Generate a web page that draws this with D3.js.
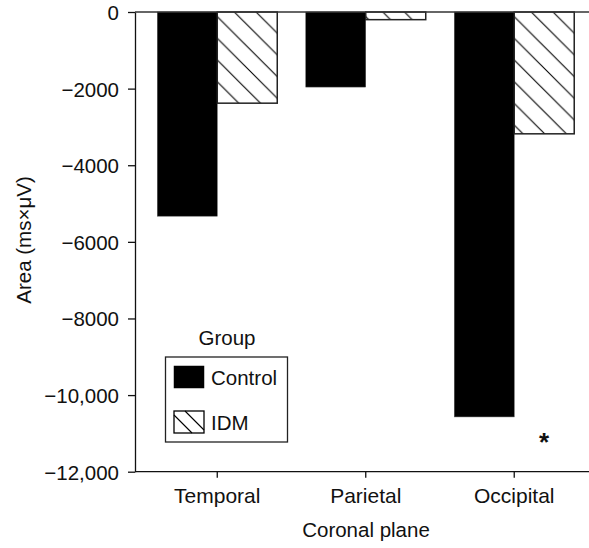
<!DOCTYPE html>
<html>
<head>
<meta charset="utf-8">
<script src="https://cdn.jsdelivr.net/npm/d3@7"></script>
<style>
  body { margin: 0; background: #fff; }
  text { font-family: "Liberation Sans", Arial, sans-serif; fill: #111; }
</style>
</head>
<body>
<svg id="viz"></svg>
<script>
// data
const regions = ["Temporal", "Parietal", "Occipital"];
const groups = ["Control", "IDM"];
const controlValues = [-5330, -1960, -10570];
const idmValues = [-2380, -200, -3180];
const yTicks = [0, -2000, -4000, -6000, -8000, -10000, -12000];
const yTickLabels = ["0", "\u22122000", "\u22124000", "\u22126000", "\u22128000", "\u221210,000", "\u221212,000"];

const rows = regions.map((r, i) => ({ region: r, Control: controlValues[i], IDM: idmValues[i] }));

const W = 589, H = 548;
const svg = d3.select("#viz").attr("width", W).attr("height", H);

// hatch for IDM
const defs = svg.append("defs");
const s = 21.7;
const pat = defs.append("pattern")
  .attr("id", "hatch")
  .attr("patternUnits", "userSpaceOnUse")
  .attr("width", s).attr("height", s);
pat.append("rect").attr("width", s).attr("height", s).attr("fill", "#fff");
pat.append("path")
  .attr("d", `M0,0L${s},${s}M${-s},0L${s},${2 * s}M0,${-s}L${2 * s},${s}`)
  .attr("stroke", "#000").attr("stroke-width", 1.1);

const x0 = 135, yTop = 12, yBot = 471.7;

const x = d3.scaleBand().domain(regions).range([x0, 596.5])
  .paddingInner(0.192).paddingOuter(0.15);
const xg = d3.scaleBand().domain(groups).range([0, x.bandwidth()]);
const y = d3.scaleLinear().domain([-12000, 0]).range([yBot, yTop]);

const fill = { Control: "#000", IDM: "url(#hatch)" };

// bars
const g = svg.append("g");
const grp = g.selectAll("g.region")
  .data(rows)
  .enter()
  .append("g")
  .attr("class", "region")
  .attr("transform", d => `translate(${x(d.region)},0)`);

grp.selectAll("rect")
  .data(d => groups.map(k => ({ key: k, value: d[k] })))
  .enter()
  .append("rect")
  .attr("x", d => xg(d.key))
  .attr("width", xg.bandwidth())
  .attr("y", y(0))
  .attr("height", d => y(d.value) - y(0))
  .attr("fill", d => fill[d.key])
  .attr("stroke", d => d.key === "IDM" ? "#222" : "#555")
  .attr("stroke-width", d => d.key === "IDM" ? 1.5 : 0.5);

// zero line across the top
svg.append("line")
  .attr("x1", x0).attr("x2", W)
  .attr("y1", y(0)).attr("y2", y(0))
  .attr("stroke", "#333").attr("stroke-width", 1.5);

// y axis
const yAxis = svg.append("g")
  .attr("transform", `translate(${x0},0)`)
  .call(d3.axisLeft(y).tickValues(yTicks)
    .tickFormat((d, i) => yTickLabels[i])
    .tickSize(7).tickSizeOuter(0).tickPadding(9));
yAxis.selectAll("text").style("font-size", "20.5px").attr("dy", "0.36em")
  .attr("font-family", "Liberation Sans, Arial, sans-serif");
yAxis.selectAll("line, path").attr("stroke", "#111").attr("stroke-width", 1.3);

// x axis
const xAxis = svg.append("g")
  .attr("transform", `translate(0,${yBot})`)
  .call(d3.axisBottom(x).tickSize(6).tickSizeOuter(0).tickPadding(10));
xAxis.select(".domain").attr("d", `M${x0},0H${W}`);
xAxis.selectAll("text").style("font-size", "21px")
  .attr("font-family", "Liberation Sans, Arial, sans-serif");
xAxis.selectAll("line, path").attr("stroke", "#111").attr("stroke-width", 1.3);

// axis titles
svg.append("text")
  .attr("transform", "translate(31,240) rotate(-90)")
  .attr("text-anchor", "middle")
  .style("font-size", "20.5px")
  .text("Area (ms\u00d7\u03bcV)");

svg.append("text")
  .attr("x", 366).attr("y", 537)
  .attr("text-anchor", "middle")
  .style("font-size", "20.5px")
  .text("Coronal plane");

// asterisk
svg.append("text")
  .attr("x", 544).attr("y", 451)
  .attr("text-anchor", "middle")
  .style("font-size", "26px")
  .style("font-weight", "bold")
  .text("*");

// legend
const lg = svg.append("g");
lg.append("text")
  .attr("x", 227).attr("y", 345)
  .attr("text-anchor", "middle")
  .style("font-size", "20.5px")
  .text("Group");
lg.append("rect")
  .attr("x", 165.5).attr("y", 357)
  .attr("width", 122).attr("height", 85)
  .attr("fill", "#fff").attr("stroke", "#222").attr("stroke-width", 1.3);

groups.forEach((k, i) => {
  const yy = 366 + i * 45;
  lg.append("rect")
    .attr("x", 174).attr("y", yy)
    .attr("width", 30).attr("height", 22)
    .attr("fill", k === "IDM" ? "#fff" : "#000")
    .attr("stroke", "#000").attr("stroke-width", k === "IDM" ? 1.3 : 0.5);
  if (k === "IDM") {
    lg.append("path")
      .attr("d", `M174,${yy + 4}L192,${yy + 22}M185,${yy}L204,${yy + 19}`)
      .attr("stroke", "#000").attr("stroke-width", 1.1);
  }
  lg.append("text")
    .attr("x", 211).attr("y", yy + 19)
    .style("font-size", "20.5px")
    .text(k);
});
</script>
</body>
</html>
